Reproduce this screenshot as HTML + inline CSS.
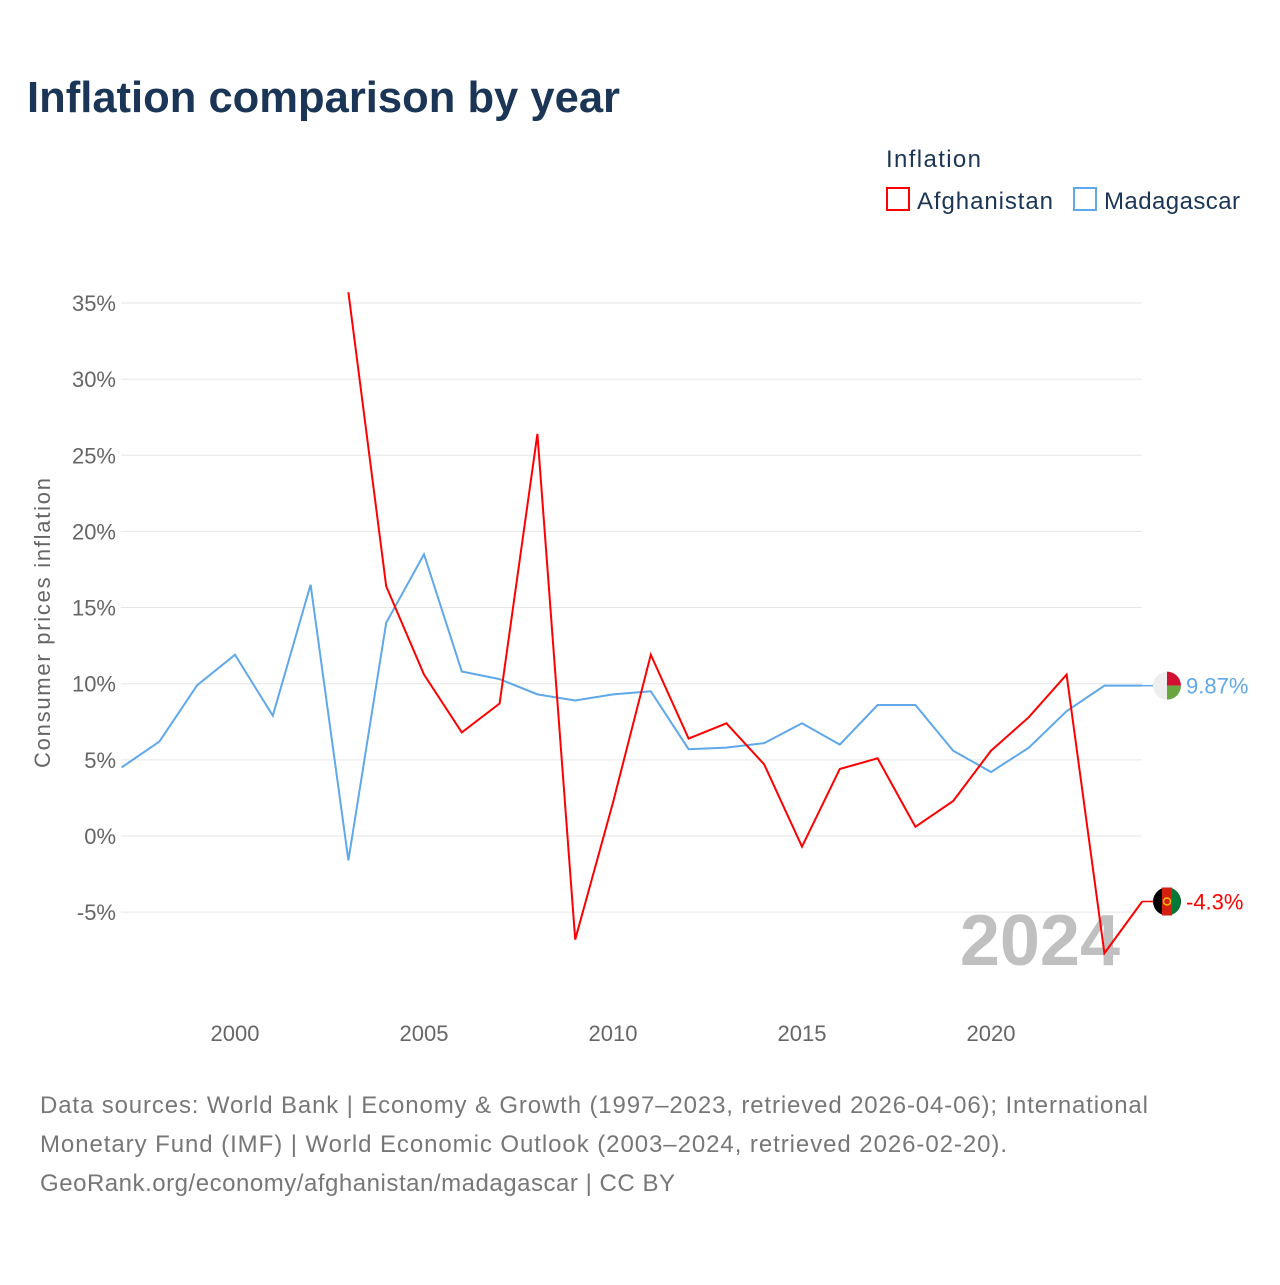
<!DOCTYPE html>
<html><head><meta charset="utf-8"><style>
body{margin:0;background:#fff;font-family:"Liberation Sans",sans-serif;}
</style></head><body>
<svg width="1280" height="1280" xmlns="http://www.w3.org/2000/svg" font-family="Liberation Sans, sans-serif">
<text x="27" y="112" font-size="44" font-weight="bold" fill="#1b3556" textLength="593" lengthAdjust="spacingAndGlyphs">Inflation comparison by year</text>
<text x="886" y="167" font-size="24" fill="#1b3556" textLength="95">Inflation</text>
<g><rect x="887" y="188" width="22" height="22" fill="none" stroke="#f00" stroke-width="2"/><text x="917" y="209" font-size="24" fill="#1b3556" textLength="136">Afghanistan</text></g>
<g><rect x="1074" y="188" width="22" height="22" fill="none" stroke="#5fa8ea" stroke-width="2"/><text x="1104" y="209" font-size="24" fill="#1b3556" textLength="136">Madagascar</text></g>
<g id="grid"></g><g id="yt"></g><g id="xt"></g>
<text transform="translate(50,623) rotate(-90)" text-anchor="middle" font-size="22" fill="#666" textLength="290">Consumer prices inflation</text>
<text x="1120" y="965" text-anchor="end" font-size="72" font-weight="bold" fill="#c0c0c0">2024</text>
<g id="series"></g>
<text x="40" y="1113" font-size="24" fill="#777" textLength="1108">Data sources: World Bank | Economy &amp; Growth (1997–2023, retrieved 2026-04-06); International</text>
<text x="40" y="1152" font-size="24" fill="#777" textLength="967">Monetary Fund (IMF) | World Economic Outlook (2003–2024, retrieved 2026-02-20).</text>
<text x="40" y="1191" font-size="24" fill="#777" textLength="635">GeoRank.org/economy/afghanistan/madagascar | CC BY</text>
</svg>
<script>
const yTicks=[-5,0,5,10,15,20,25,30,35];
const xTicks=[2000,2005,2010,2015,2020];
const madYears=[1997,1998,1999,2000,2001,2002,2003,2004,2005,2006,2007,2008,2009,2010,2011,2012,2013,2014,2015,2016,2017,2018,2019,2020,2021,2022,2023,2024];
const madValues=[4.5,6.2,9.9,11.9,7.9,16.5,-1.6,14.0,18.5,10.8,10.3,9.3,8.9,9.3,9.5,5.7,5.8,6.1,7.4,6.0,8.6,8.6,5.6,4.2,5.8,8.2,9.87,9.87];
const afgYears=[2003,2004,2005,2006,2007,2008,2009,2010,2011,2012,2013,2014,2015,2016,2017,2018,2019,2020,2021,2022,2023,2024];
const afgValues=[35.7,16.4,10.6,6.8,8.7,26.4,-6.8,2.2,11.9,6.4,7.4,4.7,-0.7,4.4,5.1,0.6,2.3,5.6,7.8,10.6,-7.7,-4.3];
const NS="http://www.w3.org/2000/svg";
const X=y=>235+(y-2000)*37.8, Y=v=>836-v*15.23;
function mk(t,a,p){const e=document.createElementNS(NS,t);for(const k in a)e.setAttribute(k,a[k]);document.getElementById(p).appendChild(e);return e;}
yTicks.forEach(v=>{
 const l=mk('line',{x1:121,x2:1142,y1:Y(v),y2:Y(v),stroke:'#e6e6e6','stroke-width':1},'grid');
 
 
 const t=mk('text',{x:116,y:Y(v)+8,'text-anchor':'end','font-size':22,fill:'#666'},'yt');t.textContent=v+'%';
 
 
});
xTicks.forEach(v=>{
 const t=mk('text',{x:X(v),y:1041,'text-anchor':'middle','font-size':22,fill:'#666'},'xt');t.textContent=v;
 
 
});
function series(ys,vs,col,name,label){
 const pts=ys.map((y,i)=>X(y)+','+Y(vs[i])).join(' ');
 const p=mk('polyline',{points:pts,fill:'none',stroke:col,'stroke-width':2},'series');
 
 
 const last=vs[vs.length-1], cy=Y(last);
 const h=mk('line',{x1:X(2024),x2:1158,y1:cy,y2:cy,stroke:col,'stroke-width':1.5},'series');
 
 
 const g=mk('g',{},'series');
 
 
 if(name==='afghanistan'){
  g.innerHTML=`<circle cx="1167" cy="${cy}" r="14" fill="#000"/><path d="M1162,${cy-14}h10v28h-10z" fill="#d32011"/><path d="M1172,${cy-13}A14,14 0 0 1 1172,${cy+13}z" fill="#007a36"/><circle cx="1167" cy="${cy}" r="3.5" fill="none" stroke="#f0c000" stroke-width="1.5"/>`;
 } else {
  g.innerHTML=`<circle cx="1167" cy="${cy}" r="14" fill="#eee"/><path d="M1167,${cy}V${cy-14}A14,14 0 0 1 1181,${cy}z" fill="#d21034"/><path d="M1167,${cy}H1181A14,14 0 0 1 1167,${cy+14}z" fill="#6aa640"/>`;
 }
 const t=mk('text',{x:1186,y:cy+8,'font-size':22,fill:col},'series');t.textContent=label;
 
 
}
series(madYears,madValues,'#5fa8ea','madagascar','9.87%');
series(afgYears,afgValues,'#ff0000','afghanistan','-4.3%');
</script>
</body></html>
